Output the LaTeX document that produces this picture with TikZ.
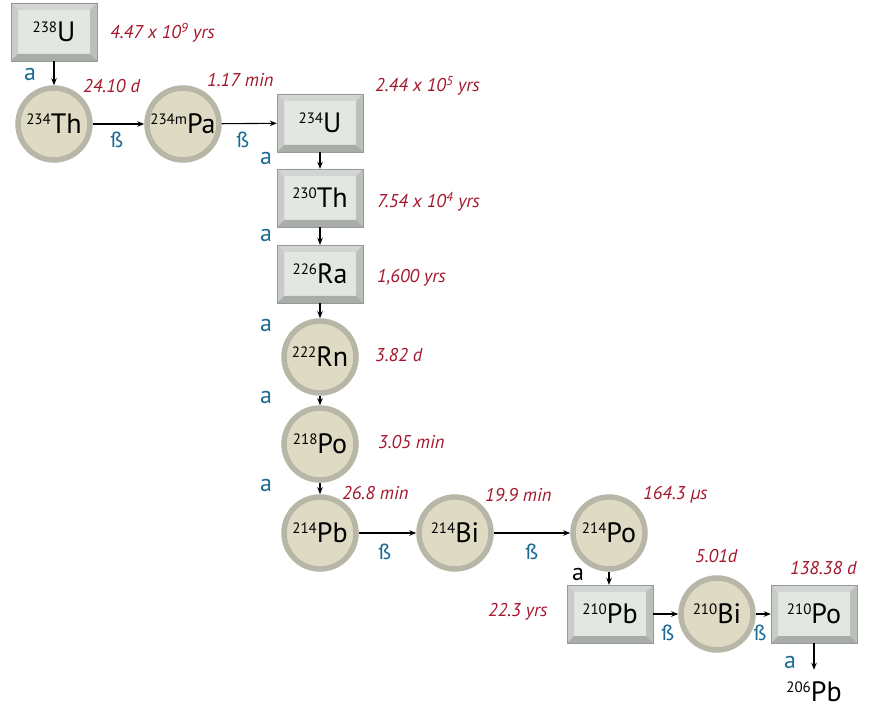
\documentclass[tikz,border=0pt]{standalone}
\usepackage{fontspec}
\setmainfont{PT Sans}
\usetikzlibrary{arrows.meta}

\definecolor{boxface}{HTML}{E3E7E2}
\definecolor{bevtop}{HTML}{D2D5D1}
\definecolor{bevleft}{HTML}{C8CBC7}
\definecolor{bevright}{HTML}{BCC0BB}
\definecolor{bevbottom}{HTML}{A9ADA8}
\definecolor{ballface}{HTML}{DEDAC3}
\definecolor{ballring}{HTML}{B8B7A7}
\definecolor{hlred}{HTML}{A3162B}
\definecolor{decayblue}{HTML}{1C6B95}

% isotope label: mass number raised to cap height
\newcommand{\iso}[2]{\raisebox{9pt}{\fontsize{15}{15}\selectfont #1}#2}

\tikzset{
  bevelbox/.style={rectangle, minimum width=86pt, minimum height=58pt, inner sep=0pt,
    fill=boxface, draw=bevright!80!black, line width=0.4pt,
    font=\fontsize{28}{28}\selectfont,
    path picture={
      \fill[bevtop] (path picture bounding box.north west) -- (path picture bounding box.north east)
        -- ([shift={(-7pt,-7pt)}]path picture bounding box.north east) -- ([shift={(7pt,-7pt)}]path picture bounding box.north west) -- cycle;
      \fill[bevleft] (path picture bounding box.north west) -- (path picture bounding box.south west)
        -- ([shift={(7pt,7pt)}]path picture bounding box.south west) -- ([shift={(7pt,-7pt)}]path picture bounding box.north west) -- cycle;
      \fill[bevright] (path picture bounding box.north east) -- (path picture bounding box.south east)
        -- ([shift={(-7pt,7pt)}]path picture bounding box.south east) -- ([shift={(-7pt,-7pt)}]path picture bounding box.north east) -- cycle;
      \fill[bevbottom] (path picture bounding box.south west) -- (path picture bounding box.south east)
        -- ([shift={(-7pt,7pt)}]path picture bounding box.south east) -- ([shift={(7pt,7pt)}]path picture bounding box.south west) -- cycle;
    }},
  ball/.style={circle, minimum size=72pt, inner sep=0pt, fill=ballface, draw=ballring,
    line width=5.5pt, font=\fontsize{28}{28}\selectfont},
  halflife/.style={anchor=west, inner sep=0pt, text=hlred, font=\fontsize{18.5}{18.5}\selectfont\itshape},
  alpha/.style={inner sep=0pt, text=decayblue, font=\fontsize{24}{24}\selectfont},
  beta/.style={inner sep=0pt, text=decayblue, font=\fontsize{22}{22}\selectfont},
  decay/.style={-{Stealth[length=7pt,width=5.5pt]}, line width=1.1pt}
}

\begin{document}
\begin{tikzpicture}[x=1pt, y=-1pt]
        \useasboundingbox (0,0) rectangle (877,708);

        % Upper row: U-238 down to Th-234, then across to U-234
        \node[bevelbox] (U238) at (54,32) {\iso{238}{U}};
        \node[ball] (Th234) at (54,124) {\iso{234}{Th}};
        \node[ball] (Pa234) at (183,124) {\iso{234m}{Pa}};
        \node[bevelbox] (U234) at (320,123) {\iso{234}{U}};

        % Middle column
        \node[bevelbox] (Th230) at (320,198) {\iso{230}{Th}};
        \node[bevelbox] (Ra226) at (320,274) {\iso{226}{Ra}};
        \node[ball] (Rn222) at (320,357) {\iso{222}{Rn}};
        \node[ball] (Po218) at (320,444) {\iso{218}{Po}};

        % Lower row
        \node[ball] (Pb214) at (320,533) {\iso{214}{Pb}};
        \node[ball] (Bi214) at (455,533) {\iso{214}{Bi}};
        \node[ball] (Po214) at (609,533) {\iso{214}{Po}};
        \node[bevelbox] (Pb210) at (610,614) {\iso{210}{Pb}};
        \node[ball] (Bi210) at (717,614) {\iso{210}{Bi}};
        \node[bevelbox] (Po210) at (814,614) {\iso{210}{Po}};
        \node[font=\fontsize{28}{28}\selectfont, inner sep=0pt] (Pb206) at (814,692) {\iso{206}{Pb}};

        % Decay arrows
        \draw[decay] (U238) -- (Th234);
        \draw[decay] (Th234) -- (Pa234);
        \draw[decay] (Pa234) -- (U234);
        \draw[decay] (U234) -- (Th230);
        \draw[decay] (Th230) -- (Ra226);
        \draw[decay] (Ra226) -- (Rn222);
        \draw[decay] (Rn222) -- (Po218);
        \draw[decay] (Po218) -- (Pb214);
        \draw[decay] (Pb214) -- (Bi214);
        \draw[decay] (Bi214) -- (Po214);
        \draw[decay] (Po214.south) -- (Pb210.north -| Po214.south);
        \draw[decay] (Pb210) -- (Bi210);
        \draw[decay] (Bi210) -- (Po210);
        \draw[decay, shorten >=12pt] (Po210.south) -- (Pb206.north);

        % Decay modes
        \node[alpha] (a1) at (30,75) {a};
        \node[beta] (b1) at (117,140) {ß};
        \node[beta] (b2) at (243,140) {ß};
        \node[alpha] (a2) at (266,159) {a};
        \node[alpha] (a3) at (266,236) {a};
        \node[alpha] (a4) at (266,325) {a};
        \node[alpha] (a5) at (266,397) {a};
        \node[alpha] (a6) at (266,485) {a};
        \node[beta] (b3) at (385,552) {ß};
        \node[beta] (b4) at (532,552) {ß};
        \node[alpha, text=black] (a7) at (578,574) {a};
        \node[beta] (b5) at (668,633) {ß};
        \node[beta] (b6) at (760,633) {ß};
        \node[alpha] (a8) at (790,662) {a};

        % Half-lives
        \node[halflife] (t1) at (110,33) {4.47 x 10\textsuperscript{9} yrs};
        \node[halflife] (t2) at (83,86) {24.10 d};
        \node[halflife] (t3) at (207,80) {1.17 min};
        \node[halflife] (t4) at (375,86) {2.44 x 10\textsuperscript{5} yrs};
        \node[halflife] (t5) at (377,202) {7.54 x 10\textsuperscript{4} yrs};
        \node[halflife] (t6) at (377,278) {1,600 yrs};
        \node[halflife] (t7) at (375,355) {3.82 d};
        \node[halflife] (t8) at (378,442) {3.05 min};
        \node[halflife] (t9) at (342,493) {26.8 min};
        \node[halflife] (t10) at (485,495) {19.9 min};
        \node[halflife] (t11) at (643,495) {164.3 µs};
        \node[halflife] (t12) at (488,612) {22.3 yrs};
        \node[halflife] (t13) at (695,556) {5.01d};
        \node[halflife] (t14) at (790,568) {138.38 d};

    \end{tikzpicture}
\end{document}
